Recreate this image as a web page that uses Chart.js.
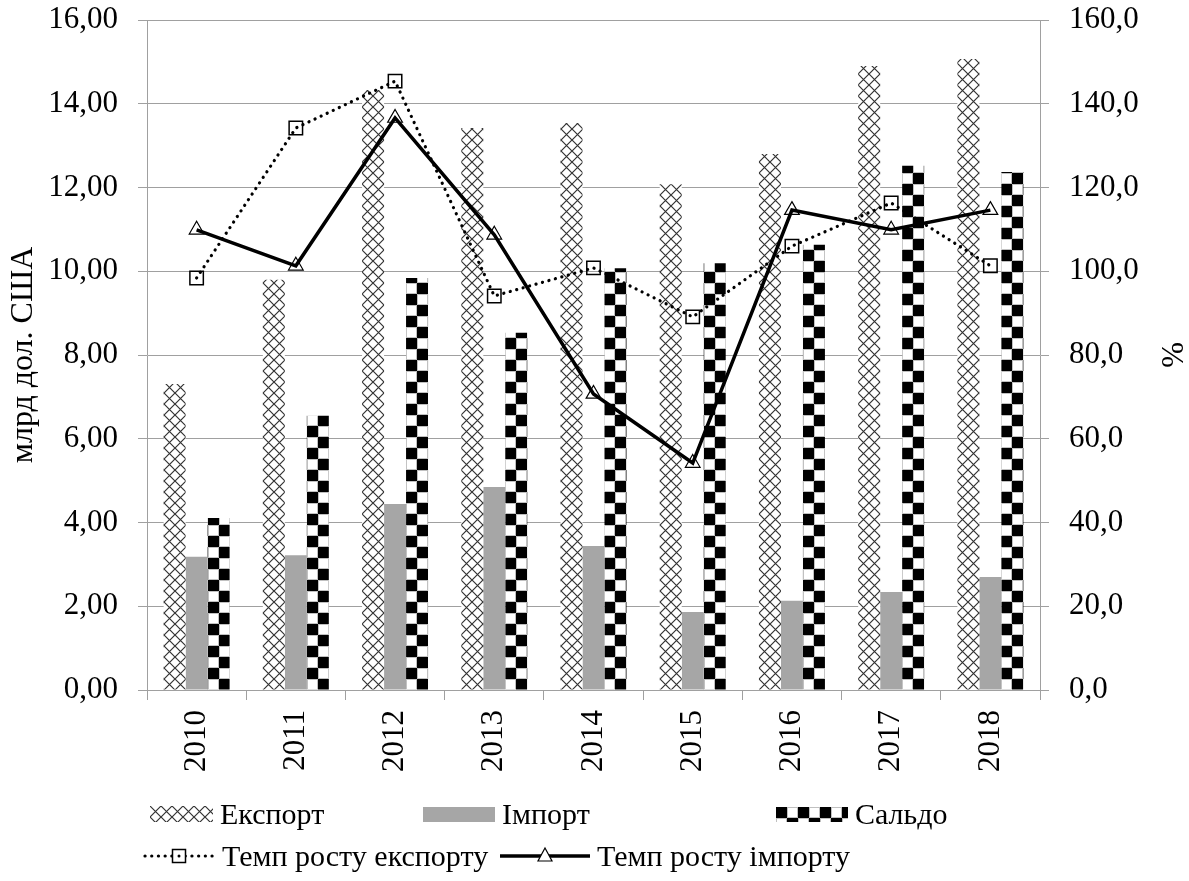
<!DOCTYPE html>
<html>
<head>
<meta charset="utf-8">
<script src="https://cdn.jsdelivr.net/npm/chart.js@4.4.0/dist/chart.umd.min.js"></script>
<style>
body { margin:0; background:#fff; }
#wrap { position:relative; width:1189px; height:881px; }
.lg { position:absolute; height:36px; display:flex; align-items:center; font:30px 'Liberation Serif','Times New Roman',serif; line-height:36px; color:#000; white-space:nowrap; }
.lg canvas { margin-right:7px; }
</style>
</head>
<body>
<div id="wrap">
  <canvas id="c" width="1189" height="881"></canvas>
</div>
<script>
const years = ['2010', '2011', '2012', '2013', '2014', '2015', '2016', '2017', '2018']
const exportVals = [7.31, 9.80, 14.33, 13.42, 13.54, 12.08, 12.80, 14.90, 15.07]
const importVals = [3.18, 3.22, 4.44, 4.85, 3.44, 1.86, 2.13, 2.34, 2.70]
const saldoVals = [4.11, 6.55, 9.84, 8.53, 10.07, 10.19, 10.63, 12.52, 12.37]
const exportGrowth = [98.4, 134.2, 145.4, 94.1, 100.8, 89.1, 106.0, 116.3, 101.3]
const importGrowth = [109.9, 101.3, 136.6, 108.7, 70.7, 54.2, 114.6, 109.9, 114.6]

const font = { family: "'Liberation Serif', 'Times New Roman', serif", size: 31 }
const titleFont = { family: "'Liberation Serif', 'Times New Roman', serif", size: 32 }
const gridCol = '#a0a0a0'
const importCol = '#a6a6a6'

// tiles for the bar fills
const hatchTile = () => {
    const t = document.createElement('canvas'); t.width = 11; t.height = 11
    const g = t.getContext('2d')
    g.fillStyle = '#fff'; g.fillRect(0, 0, 11, 11)
    g.strokeStyle = '#333'; g.lineWidth = 1.2
    g.beginPath(); g.moveTo(0, 0); g.lineTo(11, 11); g.moveTo(11, 0); g.lineTo(0, 11); g.stroke()
    return t
}
const checkTile = () => {
    const t = document.createElement('canvas'); t.width = 22; t.height = 22
    const g = t.getContext('2d')
    g.fillStyle = '#fff'; g.fillRect(0, 0, 22, 22)
    g.fillStyle = '#000'
    g.fillRect(0, 0, 11, 11); g.fillRect(11, 11, 11, 11)
    g.strokeStyle = '#c0c0c0'; g.lineWidth = 1
    g.strokeRect(11.5, 0.5, 10, 10); g.strokeRect(0.5, 11.5, 10, 10)
    return t
}

const cv = document.getElementById('c')
const ctx = cv.getContext('2d')
const hTile = hatchTile(), cTile = checkTile()

// pattern lined up with the left edge / base of each bar
const barFill = (tile, slot) => c => {
    const x = c.chart.scales.x, y = c.chart.scales.y
    if (!x || !y) return '#fff'
    const cw = x.width / years.length
    const bw = cw * 0.665 / 3
    const left = x.getPixelForValue(c.dataIndex) - bw * 1.5 + bw * slot
    const p = ctx.createPattern(tile, 'repeat')
    p.setTransform(new DOMMatrix([1, 0, 0, 1, Math.round(left), Math.round(y.getPixelForValue(0))]))
    return p
}

// keep the tick label padding from pushing the plot down
const noPad = s => { s.paddingTop = 0; s.paddingBottom = 0 }

new Chart(cv, {
    data: {
        labels: years,
        datasets: [
            {
                type: 'line', label: 'Темп росту експорту', data: exportGrowth, yAxisID: 'y1', order: 0,
                borderColor: '#000', borderWidth: 3.2, borderDash: [0.1, 6.6], borderCapStyle: 'round',
                pointStyle: 'rect', pointRadius: 9.5, pointBorderWidth: 1.5, pointBorderColor: '#000',
                pointBackgroundColor: 'rgba(255,255,255,0)', tension: 0,
            },
            {
                type: 'line', label: 'Темп росту імпорту', data: importGrowth, yAxisID: 'y1', order: 0,
                borderColor: '#000', borderWidth: 3.5,
                pointStyle: 'triangle', pointRadius: 8.5, pointBorderWidth: 1.2, pointBorderColor: '#000',
                pointBackgroundColor: 'rgba(255,255,255,0)', tension: 0,
            },
            { type: 'bar', label: 'Експорт', data: exportVals, yAxisID: 'y', order: 1, backgroundColor: barFill(hTile, 0) },
            { type: 'bar', label: 'Імпорт', data: importVals, yAxisID: 'y', order: 1, backgroundColor: importCol },
            { type: 'bar', label: 'Сальдо', data: saldoVals, yAxisID: 'y', order: 1, backgroundColor: barFill(cTile, 2) },
        ]
    },
    options: {
        responsive: false,
        animation: false,
        layout: { padding: { top: 20, left: 0, right: 0, bottom: 0 } },
        datasets: { bar: { categoryPercentage: 0.665, barPercentage: 1 } },
        plugins: { legend: { display: false }, tooltip: { enabled: false } },
        scales: {
            x: {
                grid: { offset: true, drawOnChartArea: false, color: gridCol, tickLength: 10 },
                border: { color: gridCol },
                ticks: { minRotation: 90, maxRotation: 90, padding: 10, color: '#000', font },
                afterFit: s => { s.height = 191 },
            },
            y: {
                position: 'left', min: 0, max: 16,
                ticks: { stepSize: 2, padding: 20, color: '#000', font, callback: v => v.toFixed(2).replace('.', ',') },
                grid: { color: gridCol, tickLength: 9 },
                border: { color: gridCol },
                title: { display: true, text: 'млрд дол. США', color: '#000', font: titleFont, padding: { top: 4, bottom: 0 } },
                afterFit: s => { s.width = 147; noPad(s) },
            },
            y1: {
                position: 'right', min: 0, max: 160,
                ticks: { stepSize: 20, padding: 20, color: '#000', font, callback: v => v.toFixed(1).replace('.', ',') },
                grid: { drawOnChartArea: false, color: gridCol, tickLength: 9 },
                border: { color: gridCol },
                title: { display: true, text: '%', color: '#000', font, padding: 0 },
                afterFit: s => { s.width = 149; noPad(s) },
            },
        },
    },
})

// legend, drawn as html below the axis
const swatch = (w, h, draw) => {
    const c = document.createElement('canvas'); c.width = w; c.height = h
    draw(c.getContext('2d'), w, h)
    return c
}
const item = (left, top, text, sw) => {
    const d = document.createElement('div')
    d.className = 'lg'
    d.style.left = left + 'px'; d.style.top = top + 'px'
    d.appendChild(sw)
    const s = document.createElement('span'); s.textContent = text
    d.appendChild(s)
    document.getElementById('wrap').appendChild(d)
}

item(150, 796, 'Експорт', swatch(63, 16, (g, w, h) => {
    g.fillStyle = g.createPattern(hatchTile(), 'repeat'); g.fillRect(0, 0, w, h)
}))
item(423, 796, 'Імпорт', swatch(72, 15, (g, w, h) => {
    g.fillStyle = importCol; g.fillRect(0, 0, w, h)
}))
item(776, 796, 'Сальдо', swatch(72, 15, (g, w, h) => {
    g.fillStyle = g.createPattern(checkTile(), 'repeat'); g.fillRect(0, 0, w, h)
}))
item(143, 838, 'Темп росту експорту', swatch(72, 22, (g, w, h) => {
    g.strokeStyle = '#000'; g.lineWidth = 3.2; g.lineCap = 'round'; g.setLineDash([0.1, 6.6])
    g.beginPath(); g.moveTo(2, 11); g.lineTo(w - 2, 11); g.stroke()
    g.setLineDash([]); g.lineWidth = 1.5
    g.fillStyle = '#fff'; g.fillRect(w / 2 - 6.5, 11 - 6.5, 13, 13)
    g.strokeRect(w / 2 - 6.5, 11 - 6.5, 13, 13)
    g.fillStyle = '#000'; g.beginPath(); g.arc(w / 2, 11, 1.5, 0, Math.PI * 2); g.fill()
}))
item(500, 838, 'Темп росту імпорту', swatch(90, 22, (g, w, h) => {
    g.strokeStyle = '#000'; g.lineWidth = 3.5
    g.beginPath(); g.moveTo(0, 11); g.lineTo(w, 11); g.stroke()
    g.fillStyle = '#fff'; g.lineWidth = 1.2
    g.beginPath(); g.moveTo(w / 2, 3); g.lineTo(w / 2 + 7, 16); g.lineTo(w / 2 - 7, 16); g.closePath()
    g.fill(); g.stroke()
}))
</script>
</body>
</html>
